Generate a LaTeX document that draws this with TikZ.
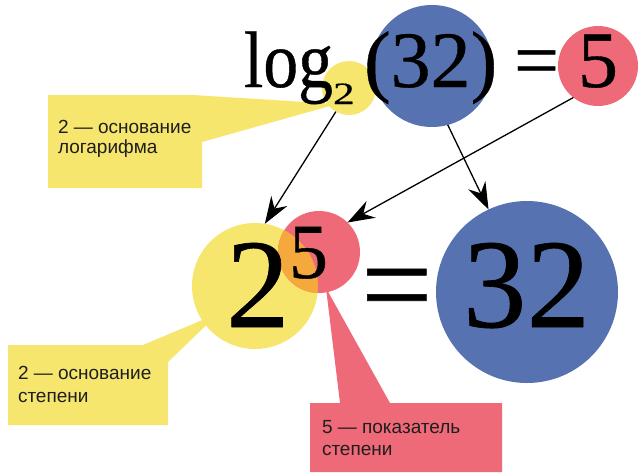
\documentclass[tikz,border=0pt]{standalone}
\usepackage{fontspec}
\setmainfont[FakeBold=0.5]{Liberation Serif}
\newfontfamily\logfont[FakeStretch=0.87,FakeBold=0.5]{Liberation Serif}
\newfontfamily\subfont[FakeStretch=1.4,FakeBold=0.5]{Liberation Serif}
\newfontfamily\labelfont{Liberation Sans}
\usetikzlibrary{arrows.meta}
\definecolor{hlyellow}{HTML}{F6E66E}
\definecolor{hlred}{HTML}{EF6A79}
\definecolor{hlblue}{HTML}{5672B0}
\definecolor{hlorange}{HTML}{F5A83C}
\definecolor{labeltext}{HTML}{1E1E1E}
\begin{document}
\begin{tikzpicture}[x=1pt,y=-1pt,
  disc/.style={circle,inner sep=0pt,outer sep=0pt,minimum size=#1},
  glyph/.style={anchor=base west,inner sep=0pt,outer sep=0pt,text=black},
  note/.style={anchor=base west,inner sep=0pt,outer sep=0pt,text=labeltext,
    font=\labelfont\fontsize{19}{22}\selectfont},
  pointer/.style={line width=1.3pt,-{Stealth[length=27pt,width=19pt,inset=9pt]}},
]
\useasboundingbox (0,0) rectangle (640,472);

% callout panels
\fill[hlyellow] (48,95) -- (193,95) -- (337,104) -- (202,142) -- (202,188) -- (48,188) -- cycle;
\fill[hlyellow] (8,345) -- (143,345) -- (219,313) -- (168,362) -- (168,425) -- (8,425) -- cycle;
\fill[hlred] (310,403) -- (340,403) -- (326,288) -- (390,403) -- (502,403) -- (502,472) -- (310,472) -- cycle;

% highlight discs
\node[disc=54pt,fill=hlyellow] (baseA) at (349,88) {};
\node[disc=122pt,fill=hlblue] (argA) at (432,66) {};
\node[disc=80pt,fill=hlred] (valA) at (598,66) {};
\node[disc=126pt,fill=hlyellow] (baseB) at (255,286) {};
\node[disc=82pt,fill=hlred] (expB) at (319,252) {};
\node[disc=182pt,fill=hlblue] (powB) at (527,292) {};
\begin{scope}
  \clip (baseB.center) circle[radius=63];
  \fill[hlorange] (expB.center) circle[radius=41];
\end{scope}

% log_2(32) = 5
\node[glyph,font=\logfont\fontsize{80}{80}\selectfont] (logA) at (244,87) {log};
\node[glyph,font=\subfont\fontsize{31}{31}\selectfont] (subA) at (333,104) {2};
\node[glyph,font=\fontsize{80}{80}\selectfont] (parA) at (364,87) {(32)};
\node[glyph,font=\fontsize{80}{80}\selectfont] (eqA) at (514,87) {=};
\node[glyph,font=\fontsize{80}{80}\selectfont] (fiveA) at (578,87) {5};

% 2^5 = 32
\node[glyph,font=\fontsize{127}{127}\selectfont] (twoB) at (226,327) {2};
\node[glyph,font=\fontsize{78}{78}\selectfont] (supB) at (289,278) {5};
\node[glyph,font=\fontsize{127}{127}\selectfont] (eqB) at (361,327) {=};
\node[glyph,font=\fontsize{127}{127}\selectfont] (numB) at (463,327) {32};

% connectors
\draw[pointer] (baseA.241) -- (baseB.81);
\draw[pointer] (argA.285) -- (powB.115);
\draw[pointer] (valA.232) -- (expB.46);

% labels
\node[note] (noteAa) at (58,133) {2 — основание};
\node[note] (noteAb) at (58,153) {логарифма};
\node[note] (noteBa) at (18,379) {2 — основание};
\node[note] (noteBb) at (18,402) {степени};
\node[note] (noteCa) at (322,433) {5 — показатель};
\node[note] (noteCb) at (322,455) {степени};
\end{tikzpicture}
\end{document}
